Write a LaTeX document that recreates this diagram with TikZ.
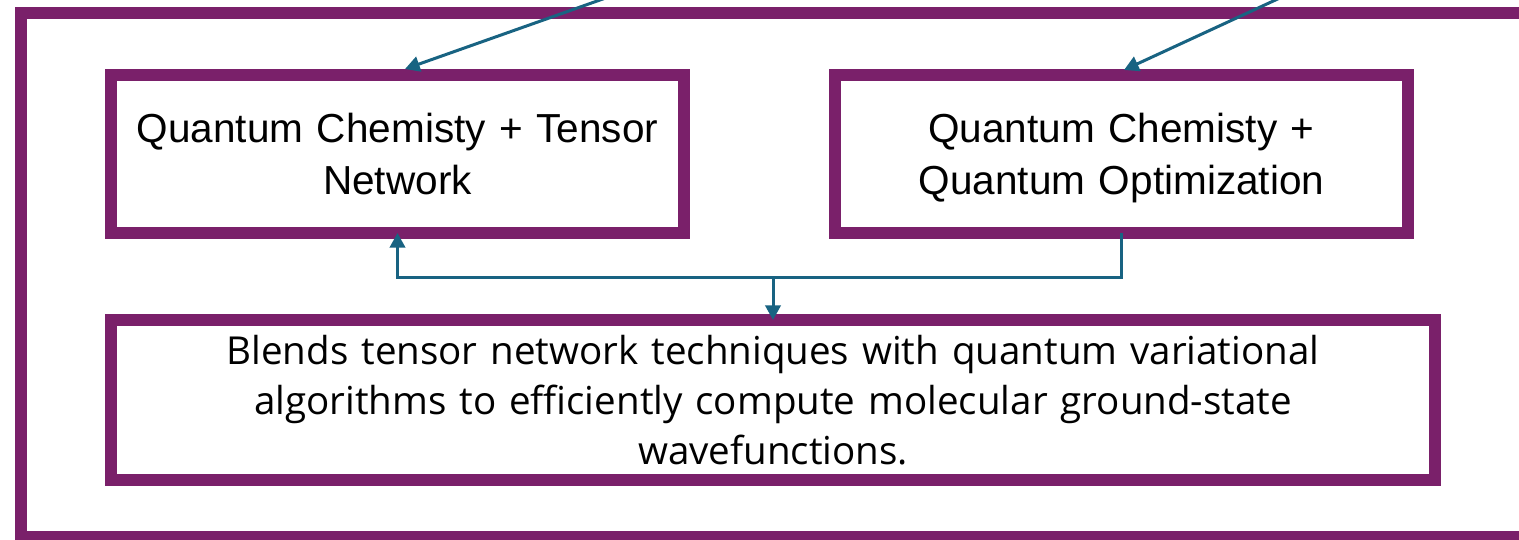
\documentclass[tikz,border=0pt]{standalone}
\usepackage{fontspec}
\setmainfont{Liberation Sans}
\newfontfamily\bodyfont{Open Sans}
\usetikzlibrary{arrows.meta,calc}
\definecolor{frame}{RGB}{122,32,106}
\definecolor{link}{RGB}{24,99,130}
\newcommand{\topstrut}{\rule{0pt}{28.5pt}}
\tikzset{
  box/.style={draw=frame, line width=9pt, fill=white, inner sep=0pt, outer sep=0pt, align=center},
  topbox/.style={box, minimum width=429.75pt, minimum height=118.5pt, text width=420pt,
    font=\fontsize{30.4pt}{39pt}\selectfont},
  wide/.style={box, minimum width=993pt, minimum height=120pt, text width=985pt,
    font=\bodyfont\fontsize{28.9pt}{37.5pt}\selectfont},
  link/.style={draw=link, line width=2.25pt, -{Triangle[width=11.5pt,length=11pt]}},
}
\begin{document}
\begin{tikzpicture}[x=0.75pt,y=-0.75pt]
\useasboundingbox (0,0) rectangle (1519,539);
\clip (0,0) rectangle (1519,539);
\fill[white] (0,0) rectangle (1519,539);
\draw[frame, line width=9pt] (21,13) rectangle (1560,537);
\node[topbox] (b1) at (397.5,154) {\topstrut Quantum Chemisty + Tensor\\Network\vphantom{p}};
\node[topbox] (b2) at (1121.5,154) {\topstrut Quantum Chemisty +\\Quantum Optimization};
\node[wide] (b3) at (773,400) {Blends tensor network techniques with quantum variational\\algorithms to efficiently compute molecular ground-state\\wavefunctions.};
\coordinate (s1) at (713,-40);
\coordinate (s2) at (1362,-40);
\coordinate (j) at (773,277);
\draw[link] (s1) -- ([shift={(7.5,-6)}]b1.north);
\draw[link] (s2) -- ([shift={(2.5,-5)}]b2.north);
\draw[link] (b2.south) |- (j) -| (b1.south);
\draw[link] (j) -- (b3.north);
\end{tikzpicture}
\end{document}
